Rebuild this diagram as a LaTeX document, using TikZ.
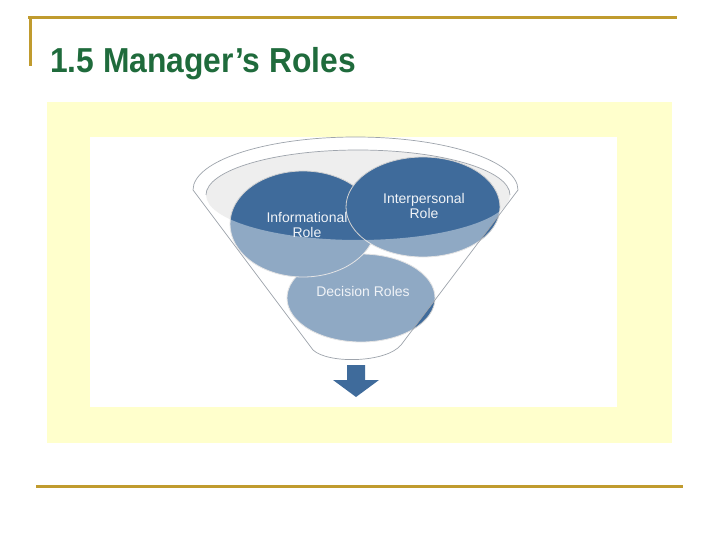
\documentclass[tikz,border=0pt]{standalone}
\usepackage{fontspec}
\setmainfont{Liberation Sans}
\usepackage{xcolor}
\usepackage{graphicx}
\usepackage{tikz}
\usetikzlibrary{arrows.meta, positioning, calc, shapes}

\definecolor{gold}{HTML}{C09B2E}
\definecolor{titlegreen}{HTML}{1F6B3C}
\definecolor{roleblue}{HTML}{3F6B9B}
\definecolor{paleyellow}{HTML}{FFFFCC}
\definecolor{rimgray}{HTML}{9EA4AC}

\tikzset{
  ball/.style={ellipse, fill=roleblue, draw=gray!35, line width=0.8pt, inner sep=0pt},
  rolelabel/.style={text=white!92!roleblue, align=center, font=\fontsize{14}{15}\selectfont},
  goldline/.style={draw=gold, line width=3pt},
}

\begin{document}
\begin{tikzpicture}[x=1pt,y=-1pt]

            \useasboundingbox (0,0) rectangle (720,540);

            % 背景
            \fill[paleyellow] (47,102) rectangle (672,443);
            \fill[white] (90,137) rectangle (617,407);

            % 漏斗口
            \def\cx{358}
            \def\cy{195}
            \fill[gray!13] (\cx,\cy) ellipse[x radius=152, y radius=45];

            % 三个角色
            \node[ball, minimum width=148pt, minimum height=88pt] (decisionball) at (361,298) {};
            \node[ball, minimum width=146pt, minimum height=106pt] (infoball) at (303,224) {};
            \node[ball, minimum width=154pt, minimum height=100pt] (interball) at (423,207) {};

            % 漏斗玻璃
            \fill[white, opacity=0.42, even odd rule]
            (193,190)
            arc[start angle=180, end angle=360, x radius=162.5, y radius=53]
            -- (401,345)
            .. controls (386,363) and (328,364) .. (313,350)
            -- cycle
            (\cx,\cy) ellipse[x radius=152, y radius=45];

            % 漏斗轮廓
            \draw[rimgray, line width=0.7pt]
            (193,190)
            arc[start angle=180, end angle=360, x radius=162.5, y radius=53]
            -- (401,345)
            .. controls (386,363) and (328,364) .. (313,350)
            -- cycle;
            \draw[rimgray, line width=0.7pt]
            (\cx,\cy) ++(-152,0)
            arc[start angle=180, end angle=360, x radius=152, y radius=45];

            % 文字
            \node[rolelabel] (info) at (307,225) {Informational\\Role};
            \node[rolelabel] (inter) at (424,206) {Interpersonal\\Role};
            \node[rolelabel] (decision) at (363,291) {Decision Roles};

            % 箭头
            \fill[roleblue]
            (347,365) -- (365,365) -- (365,380) -- (379,380)
            -- (356,397) -- (333,380) -- (347,380) -- cycle;

            % 标题
            \node[anchor=base west, inner sep=0pt, text=titlegreen,
            font=\fontsize{31.8}{38}\selectfont\bfseries] (title) at (50,73)
            {\scalebox{1}[1.09]{1.5 Manager’s Roles}};
            \draw[goldline] (28,18) -- (677,18);
            \draw[goldline] (30,18) -- (30,66);
            \draw[goldline] (36,486) -- (683,486);

        \end{tikzpicture}
\end{document}
